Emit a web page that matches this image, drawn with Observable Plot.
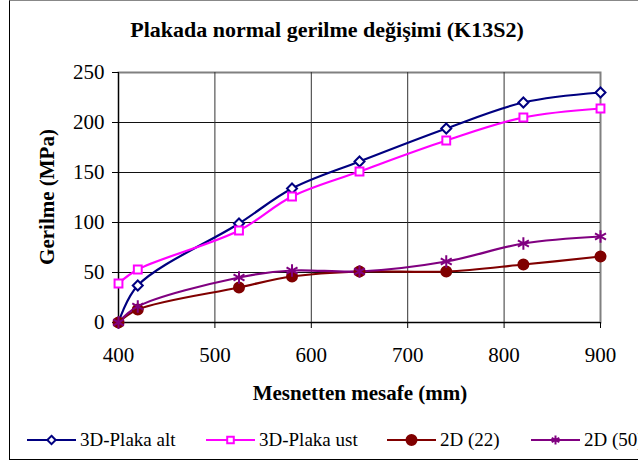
<!DOCTYPE html>
<html><head><meta charset="utf-8">
<script src="https://cdn.jsdelivr.net/npm/d3@7"></script>
<script src="https://cdn.jsdelivr.net/npm/@observablehq/plot@0.6"></script>
<style>
body{margin:0;width:638px;height:461px;overflow:hidden;position:relative;background:#fff;font-family:"Liberation Serif",serif;color:#000}
svg text, .leg, .leg span{font-family:"Liberation Serif",serif !important}
#border{position:absolute;left:9px;top:0px;width:700px;height:460px;border:1px solid #000;border-top-color:#888;box-sizing:border-box}
#chart{position:absolute;left:0;top:0}
.t{position:absolute;white-space:nowrap;line-height:1}
#title{left:0;width:654px;top:19px;text-align:center;font-weight:bold;font-size:22px}
#xlab{left:160px;width:400px;top:383px;text-align:center;font-weight:bold;font-size:21px}
#ylab{left:47px;top:197px;font-weight:bold;font-size:21px;transform:translate(-50%,-50%) rotate(-90deg)}
.leg{position:absolute;top:430px;height:20px;display:flex;align-items:center;font-size:19px;white-space:nowrap}
.leg svg{margin-right:3px}
</style></head>
<body>
<div id="border"></div>
<div id="chart"></div>
<div class="t" id="title">Plakada normal gerilme değişimi (K13S2)</div>
<div class="t" id="xlab">Mesnetten mesafe (mm)</div>
<div class="t" id="ylab">Gerilme (MPa)</div>
<div id="legend"></div>
<script>
const distances = [400, 420, 525, 580, 650, 740, 820, 900];
const plakaAlt = [0, 37, 99, 134, 161, 194, 220, 230];
const plakaUst = [39, 53, 92, 126, 151, 182, 205, 214];
const d2_22 = [0, 13, 35, 46, 51, 51, 58, 66];
const d2_50 = [0, 16, 45, 52, 51, 61, 79, 86];
const seriesNames = ["3D-Plaka alt", "3D-Plaka ust", "2D (22)", "2D (50)"];
const seriesColors = ["#000080", "#FF00FF", "#800000", "#800080"];
const xTicks = [400, 500, 600, 700, 800, 900];
const yTicks = [0, 50, 100, 150, 200, 250];

const seriesValues = [plakaAlt, plakaUst, d2_22, d2_50];
const symbols = ["diamond2", "square2", "circle", "asterisk"];
const fills = ["#fff", "#fff", "#800000", "none"];
const radii = [4.5, 5, 5, 6];
const rows = seriesValues.map(vals => distances.map((x, i) => ({x, y: vals[i]})));
const FONT = "Liberation Serif";

const marks = [
  Plot.frame({stroke: "#808080", strokeWidth: 2}),
  Plot.ruleY(yTicks.slice(1, -1), {stroke: "#111", strokeWidth: 1}),
  Plot.ruleX(xTicks.slice(1, -1), {stroke: "#333", strokeWidth: 1}),
  Plot.ruleX([400], {stroke: "#000", strokeWidth: 1}),
  Plot.ruleY([0], {stroke: "#000", strokeWidth: 1}),
  Plot.axisX({ticks: xTicks, tickSize: 6, tickPadding: 19, tickFormat: d => String(d), label: null, fontSize: 21, fontFamily: FONT}),
  Plot.axisY({ticks: yTicks, tickSize: 6, tickPadding: 8, tickFormat: d => String(d), label: null, fontSize: 21, fontFamily: FONT})
];
rows.forEach((r, k) => {
  marks.push(Plot.line(r, {x: "x", y: "y", stroke: seriesColors[k], strokeWidth: 2.2, curve: "catmull-rom"}));
});
rows.forEach((r, k) => {
  marks.push(Plot.dot(r, {x: "x", y: "y", symbol: symbols[k], r: radii[k], stroke: seriesColors[k], fill: fills[k], strokeWidth: 2}));
});

const chart = Plot.plot({
  width: 638, height: 400,
  marginLeft: 118, marginRight: 38, marginTop: 72, marginBottom: 78,
  x: {domain: [400, 900]},
  y: {domain: [0, 250]},
  style: {fontFamily: FONT, fontSize: "21px", color: "#000", background: "transparent", overflow: "visible"},
  marks
});
document.getElementById("chart").appendChild(chart);

// legend
const legLefts = [27, 206, 387, 531];
const symMap = {diamond2: d3.symbolDiamond2, square2: d3.symbolSquare2, circle: d3.symbolCircle, asterisk: d3.symbolAsterisk};
const legend = document.getElementById("legend");
seriesNames.forEach((name, k) => {
  const div = document.createElement("div");
  div.className = "leg";
  div.style.left = legLefts[k] + "px";
  const svg = d3.create("svg").attr("width", 50).attr("height", 20);
  svg.append("line").attr("x1", 0).attr("x2", 49).attr("y1", 10).attr("y2", 10).attr("stroke", seriesColors[k]).attr("stroke-width", 2.2);
  const rr = radii[k];
  const size = symbols[k] === "circle" ? Math.PI * rr * rr : (symbols[k] === "asterisk" ? rr * rr * 1.5 : rr * rr * 2.2);
  svg.append("path").attr("transform", "translate(24.5,10)")
    .attr("d", d3.symbol(symMap[symbols[k]], size)())
    .attr("fill", fills[k]).attr("stroke", seriesColors[k]).attr("stroke-width", 2);
  div.appendChild(svg.node());
  const span = document.createElement("span");
  span.textContent = name;
  div.appendChild(span);
  legend.appendChild(div);
});
</script>
</body></html>
